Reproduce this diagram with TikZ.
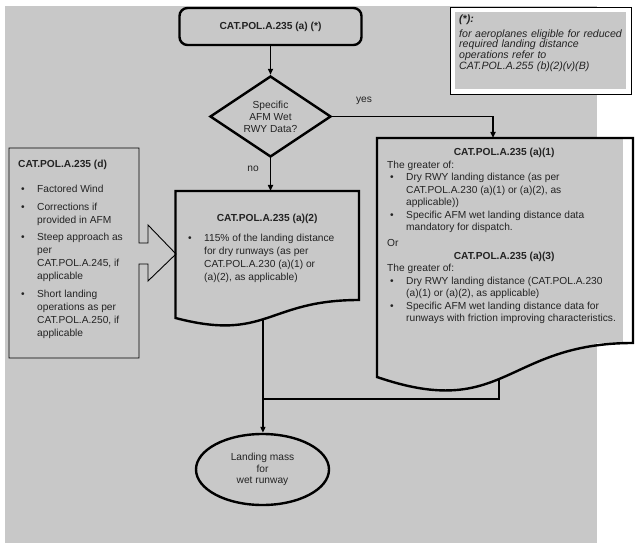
\documentclass[tikz,border=0pt]{standalone}
\usepackage{fontspec}
\setmainfont{Liberation Sans}
\usetikzlibrary{arrows.meta,shapes.geometric}
\definecolor{bggray}{RGB}{200,200,200}
\definecolor{txtgray}{RGB}{35,35,35}
% bullet lists as tabulars: bullet column, text column
\newenvironment{bullets}{\begin{tabular}{@{\hspace{3bp}}p{16bp}@{}l@{}}}{\end{tabular}}
\newcommand{\boxhead}[2]{\multicolumn{2}{@{}l@{}}{\makebox[#1][c]{\bfseries #2}}}
\newcommand{\wide}[1]{\multicolumn{2}{@{}l@{}}{#1}}

\tikzset{
  txt/.style={font=\fontsize{10.2bp}{12.6bp}\selectfont, text=txtgray, inner sep=0pt},
  thickline/.style={draw=black, line width=2.4bp},
  conn/.style={draw=black, line width=1.5bp},
  arr/.style={conn, -{Triangle[length=6bp,width=5bp]}},
}

\begin{document}
\begin{tikzpicture}[x=1bp,y=-1bp]
\useasboundingbox (0,0) rectangle (643,554);
\fill[white] (0,0) rectangle (643,554);
\fill[bggray] (5,6) rectangle (597,543);

% note box
\filldraw[fill=white, draw=black, line width=0.9bp] (450,7) rectangle (631,94);
\fill[bggray] (455,12) rectangle (626,89);
\node[txt, anchor=north west, text width=172bp, align=left,
  font=\fontsize{10.6bp}{10.6bp}\selectfont\itshape] (note) at (459,14.3)
  {\textbf{(*):}\\[4.5bp]for aeroplanes eligible for reduced\\required landing distance\\operations refer to\\CAT.POL.A.255 (b)(2)(v)(B)};

% top and decision
\node[txt, thickline, rounded corners=8bp, minimum width=182bp, minimum height=37bp,
  font=\fontsize{10.2bp}{12.6bp}\selectfont\bfseries] (start) at (270.5,26.5) {CAT.POL.A.235 (a) (*)};
\node[txt, thickline, diamond, aspect=1.5, minimum width=121bp, minimum height=81bp, align=center,
  font=\fontsize{10.2bp}{12bp}\selectfont] (wetdata) at (270.5,116.5) {Specific\\AFM Wet\\RWY Data?};

% left box with block arrow
\draw[line width=0.9bp] (9,148) -- (139,148) -- (139,243) -- (148,243) -- (148,225) -- (176,254)
  -- (148,281) -- (148,264) -- (139,264) -- (139,358) -- (9,358) -- cycle;
\node[txt, anchor=north west, font=\fontsize{10.2bp}{13bp}\selectfont] (dtext) at (18,158.5)
  {\begin{bullets}
   \wide{\bfseries CAT.POL.A.235 (d)}\\[12bp]
   \textbullet & Factored Wind\\[5bp]
   \textbullet & Corrections if\\
               & provided in AFM\\[4bp]
   \textbullet & Steep approach as\\
               & per\\
               & CAT.POL.A.245, if\\
               & applicable\\[5bp]
   \textbullet & Short landing\\
               & operations as per\\
               & CAT.POL.A.250, if\\
               & applicable
   \end{bullets}};

% middle document (a)(2)
\draw[thickline] (175.5,191) -- (359,191) -- (359,300) .. controls (267,300) and (267,342) ..
  (175.5,318) coordinate[pos=0.53] (a2out) -- cycle;
\coordinate (a2top) at (270.5,191);
\node[txt, anchor=north west, font=\fontsize{10.2bp}{13bp}\selectfont] (a2text) at (185,212.5)
  {\begin{bullets}
   \boxhead{164bp}{CAT.POL.A.235 (a)(2)}\\[7bp]
   \textbullet & 115\% of the landing distance\\
               & for dry runways (as per\\
               & CAT.POL.A.230 (a)(1) or\\
               & (a)(2), as applicable)
   \end{bullets}};

% right document (a)(1) / (a)(3)
\fill[bggray] (377,138) rectangle (623,343);
\draw[thickline] (377,138) -- (633,138) -- (633,343) .. controls (505,343) and (505,421) ..
  (377,377) coordinate[pos=0.53] (a1out) -- cycle;
\coordinate (a1top) at (493,138);
\node[txt, anchor=north west, font=\fontsize{10.2bp}{12.5bp}\selectfont] (a1text) at (387,146.9)
  {\begin{bullets}
   \boxhead{234bp}{CAT.POL.A.235 (a)(1)}\\
   \wide{The greater of:}\\
   \textbullet & Dry RWY landing distance (as per\\
               & CAT.POL.A.230 (a)(1) or (a)(2), as\\
               & applicable))\\
   \textbullet & Specific AFM wet landing distance data\\
               & mandatory for dispatch.\\[3.5bp]
   \wide{Or}\\
   \boxhead{234bp}{CAT.POL.A.235 (a)(3)}\\
   \wide{The greater of:}\\
   \textbullet & Dry RWY landing distance (CAT.POL.A.230\\
               & (a)(1) or (a)(2), as applicable)\\
   \textbullet & Specific AFM wet landing distance data for\\
               & runways with friction improving characteristics.
   \end{bullets}};

% result
\node[txt, thickline, ellipse, minimum width=133bp, minimum height=71bp, align=center,
  font=\fontsize{10.2bp}{11.5bp}\selectfont] (mass) at (262.5,469.5) {Landing mass\\for\\wet runway};

% connectors
\draw[arr] (start) -- (wetdata);
\draw[arr] (wetdata.east) -| (a1top);
\node[txt] (yeslbl) at (364,101) {yes};
\draw[arr] (wetdata.south) -- (a2top);
\node[txt] (nolbl) at (253,169) {no};
\draw[arr] (a2out) -- (a2out |- mass.north);
\coordinate (merge) at (a2out |- 0,399);
\draw[conn] (a1out) |- (merge);
\end{tikzpicture}
\end{document}
